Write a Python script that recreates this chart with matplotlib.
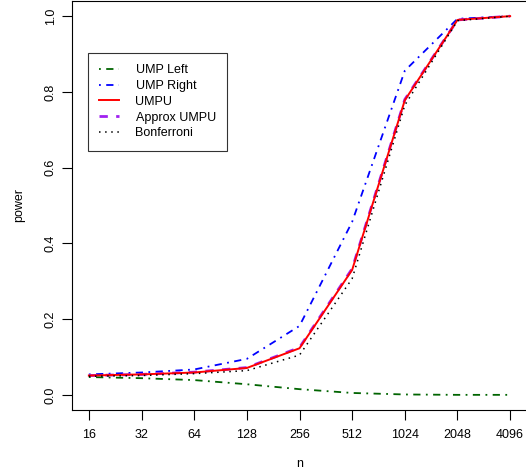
import matplotlib
matplotlib.use("Agg")
import matplotlib.pyplot as plt
import numpy as np

plt.rcParams['font.family'] = ['Liberation Sans', 'DejaVu Sans']

n_labels = ["16", "32", "64", "128", "256", "512", "1024", "2048", "4096"]
ump_left = [0.047, 0.044, 0.039, 0.028, 0.015, 0.005, 0.001, 0.0, 0.0]
ump_right = [0.054, 0.059, 0.067, 0.095, 0.182, 0.457, 0.856, 0.993, 1.0]
umpu = [0.051, 0.054, 0.059, 0.071, 0.123, 0.330, 0.778, 0.990, 1.0]
approx_umpu = [0.051, 0.054, 0.060, 0.072, 0.125, 0.333, 0.780, 0.990, 1.0]
bonferroni = [0.049, 0.051, 0.056, 0.064, 0.105, 0.307, 0.765, 0.988, 1.0]

W, H = 526, 476
fig = plt.figure(figsize=(W/100, H/100), dpi=100)
ax = fig.add_axes([72/W, 66/H, (527-72)/W, (410-1)/H])

x = np.arange(len(n_labels))
ax.plot(x, ump_left, color='#006400', lw=1.3, dashes=(1, 3, 4, 3), label='UMP Left')
ax.plot(x, ump_right, color='blue', lw=1.3, dashes=(1, 3, 4, 3), label='UMP Right')
ax.plot(x, approx_umpu, color='#A020F0', lw=2.0, dashes=(3, 3), label='Approx UMPU')
ax.plot(x, umpu, color='red', lw=1.4, label='UMPU')
ax.plot(x, bonferroni, color='black', lw=1.1, dashes=(1, 3), label='Bonferroni')

ax.set_xlim(-0.32, 8.32)
ax.set_ylim(-0.04, 1.04)
ax.set_xticks(x)
ax.set_xticklabels(n_labels)
ax.set_yticks([0.0, 0.2, 0.4, 0.6, 0.8, 1.0])
ax.set_yticklabels(["0.0", "0.2", "0.4", "0.6", "0.8", "1.0"], rotation=90, va='center')
ax.tick_params(direction='out', length=7, width=0.8, labelsize=9)
ax.tick_params(axis='x', pad=7)
ax.tick_params(axis='y', pad=4)
for s in ax.spines.values():
    s.set_linewidth(0.8)
ax.set_xlabel('n', fontsize=9, labelpad=12)
ax.set_ylabel('power', fontsize=9, labelpad=14)

handles, labels = ax.get_legend_handles_labels()
order = ['UMP Left', 'UMP Right', 'UMPU', 'Approx UMPU', 'Bonferroni']
hmap = dict(zip(labels, handles))
leg = ax.legend([hmap[k] for k in order], order, loc='upper left',
                bbox_to_anchor=((88-72)/(527-72), (410-53)/(410-1)),
                fontsize=9, frameon=True, fancybox=False, edgecolor='black',
                handlelength=1.6, handletextpad=1.3, labelspacing=0.3,
                borderpad=0.9, borderaxespad=0)
leg.get_frame().set_linewidth(0.8)

fig.savefig('out.png', dpi=100)
